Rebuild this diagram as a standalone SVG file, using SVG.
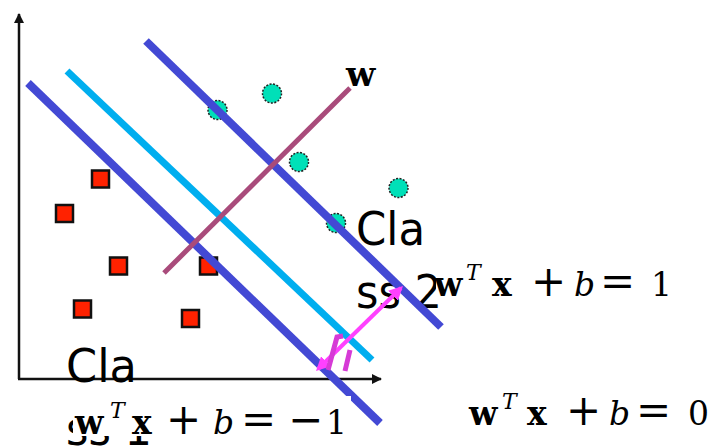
<svg xmlns="http://www.w3.org/2000/svg" width="717" height="448" viewBox="0 0 717 448">
<style>
.sq{fill:#ff2200;stroke:#111;stroke-width:2.5}
.ci{fill:#00e0b8;stroke:#222;stroke-width:1.5;stroke-dasharray:2 1.5}
.lbl{font-family:"DejaVu Sans","Liberation Sans",sans-serif;font-size:47px;fill:#000}
.f{font-family:"DejaVu Serif","Liberation Serif",serif;font-size:33px;fill:#000}
.bd{font-weight:bold}
.it{font-style:italic}
.op{font-size:42px}
.sup{font-size:22px;font-style:italic}
</style>
<defs>
<marker id="ah" viewBox="0 0 10 10" refX="9" refY="5" markerWidth="4" markerHeight="4" orient="auto-start-reverse"><path d="M0,0 L10,5 L0,10 z" fill="#111"/></marker>
<marker id="mh" viewBox="0 0 10 10" refX="8" refY="5" markerWidth="3.5" markerHeight="3.5" orient="auto-start-reverse"><path d="M0,0 L10,5 L0,10 z" fill="#ff40ff"/></marker>
</defs>
<rect width="717" height="448" fill="#fff"/>
<g id="axes" stroke="#111" stroke-width="2.5" fill="none">
<line x1="19" y1="379" x2="19" y2="14" marker-end="url(#ah)"/>
<line x1="18" y1="379" x2="381" y2="379" marker-end="url(#ah)"/>
</g>
<g id="class1-points">
<rect class="sq" x="92" y="170.5" width="17" height="17"/>
<rect class="sq" x="56" y="205" width="17" height="17"/>
<rect class="sq" x="110" y="257.5" width="17" height="17"/>
<rect class="sq" x="200" y="257.5" width="17" height="17"/>
<rect class="sq" x="74" y="300.5" width="17" height="17"/>
<rect class="sq" x="182" y="310" width="17" height="17"/>
</g>
<g id="class2-points">
<circle class="ci" cx="217.5" cy="110" r="9.5"/>
<circle class="ci" cx="272" cy="93.5" r="9.5"/>
<circle class="ci" cx="299" cy="162" r="9.5"/>
<circle class="ci" cx="398.5" cy="188" r="9.5"/>
<circle class="ci" cx="336" cy="223" r="9.5"/>
</g>
<g id="class-labels">
<text class="lbl" x="356" y="245" textLength="69" lengthAdjust="spacingAndGlyphs">Cla</text>
<text class="lbl" x="356" y="308" textLength="86" lengthAdjust="spacingAndGlyphs">ss 2</text>
<text class="lbl" x="66" y="382" textLength="71" lengthAdjust="spacingAndGlyphs">Cla</text>
<text class="lbl" x="66" y="445" textLength="86" lengthAdjust="spacingAndGlyphs">ss 1</text>
</g>
<g id="connectors" fill="none" stroke-linecap="butt">
<line x1="28" y1="83" x2="380" y2="423" stroke="#4349d4" stroke-width="8"/>
<line x1="67" y1="71" x2="372" y2="360" stroke="#00aeef" stroke-width="7"/>
<line x1="146" y1="41" x2="441" y2="327" stroke="#4349d4" stroke-width="8"/>
<line x1="164" y1="273" x2="350" y2="88" stroke="#a94b7b" stroke-width="5"/>
<line x1="318" y1="369" x2="401" y2="288" stroke="#ff40ff" stroke-width="4" marker-start="url(#mh)" marker-end="url(#mh)"/>
<path d="M328,370 L337,337 L343,336 M345,371 L350,350" stroke="#d63ad6" stroke-width="5"/>
</g>
<g id="w-label"><text x="346" y="86" font-family="DejaVu Serif,Liberation Serif,serif" font-weight="bold" font-size="34" fill="#000">w</text></g>
<g id="eq-plus1">
<rect x="436" y="262" width="245" height="42" fill="#fff"/>
<text class="f" y="296"><tspan class="bd" x="434">w</tspan><tspan class="sup" x="466" y="280">T</tspan><tspan class="bd" x="492" y="296">x</tspan><tspan class="op" x="531">+</tspan><tspan class="it" x="574">b</tspan><tspan class="op" x="600">=</tspan><tspan x="651">1</tspan></text>
</g>
<g id="eq-zero">
<text class="f" y="425"><tspan class="bd" x="469">w</tspan><tspan class="sup" x="502" y="409">T</tspan><tspan class="bd" x="527" y="425">x</tspan><tspan class="op" x="566">+</tspan><tspan class="it" x="609">b</tspan><tspan class="op" x="636">=</tspan><tspan x="688">0</tspan></text>
</g>
<g id="eq-minus1">
<rect x="73" y="396" width="278" height="40" fill="#fff"/>
<text class="f" y="434"><tspan class="bd" x="75">w</tspan><tspan class="sup" x="110" y="418">T</tspan><tspan class="bd" x="132" y="434">x</tspan><tspan class="op" x="166">+</tspan><tspan class="it" x="213">b</tspan><tspan class="op" x="241">=</tspan><tspan class="op" x="288">−</tspan><tspan x="326">1</tspan></text>
</g>
</svg>
